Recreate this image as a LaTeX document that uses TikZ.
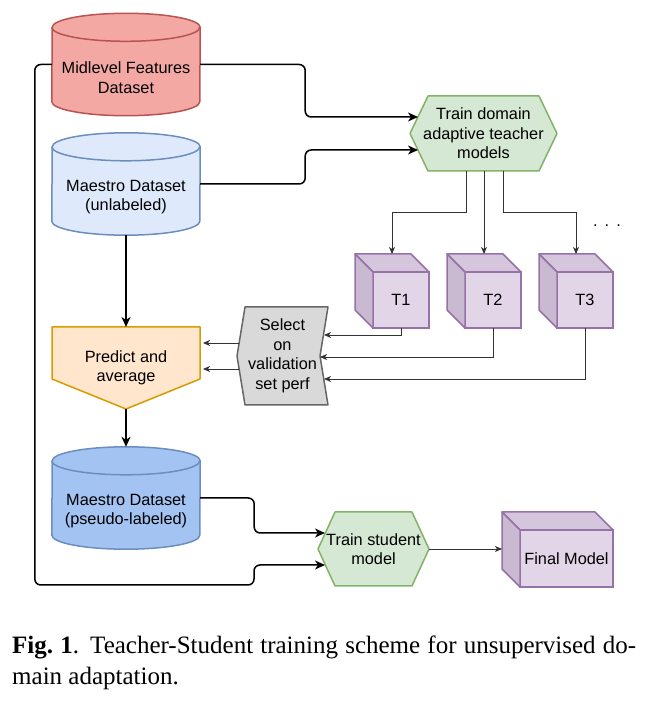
\documentclass[tikz,border=0pt]{standalone}
\usepackage{fontspec}
\setmainfont{Liberation Serif}
\newfontfamily\diafont{Liberation Sans}
\usetikzlibrary{arrows.meta,calc,backgrounds}
\definecolor{dbred}{HTML}{F4A8A4}
\definecolor{dbredline}{HTML}{B85450}
\definecolor{dbpale}{HTML}{DEEAFB}
\definecolor{dbblue}{HTML}{A3C3F2}
\definecolor{dbblueline}{HTML}{6C8EBF}
\definecolor{trainfill}{HTML}{D5E8D4}
\definecolor{trainline}{HTML}{82B366}
\definecolor{predfill}{HTML}{FFE6CC}
\definecolor{predline}{HTML}{D79B00}
\definecolor{selfill}{HTML}{D9D9D9}
\definecolor{selline}{HTML}{666666}
\definecolor{cubefront}{HTML}{E1D5E7}
\definecolor{cubetop}{HTML}{D5C6DD}
\definecolor{cubeside}{HTML}{C9B9D1}
\definecolor{cubeline}{HTML}{9673A6}

\begin{document}
\begin{tikzpicture}[x=1pt, y=1pt,
  font=\diafont\fontsize{16.3}{19.5}\selectfont,
  db/.style={minimum width=148, minimum height=102, inner sep=0pt},
  dbtxt/.style={align=center, inner sep=0pt},
  box/.style={align=center, inner sep=0pt, outer sep=0pt},
  outline/.style={line width=1.5pt, line join=round},
  cube/.style={draw=cubeline, fill=cubefront, line width=1.5pt, outer sep=0pt, inner sep=0pt},
  flow/.style={line width=1.5pt, rounded corners=6pt, -{Stealth[length=10pt, width=9pt, inset=3pt]}},
  link/.style={line width=0.9pt, black!80, -{Stealth[length=7pt, width=6pt, inset=2pt]}},
]
\useasboundingbox (0,0) rectangle (663,702);

% datasets
\node[db] (mf) at (126,637.5) {};
\node[db] (mu) at (126,518) {};
\node[db] (pl) at (126,204) {};
\foreach \n/\f/\d in {mf/dbred/dbredline, mu/dbpale/dbblueline, pl/dbblue/dbblueline} {
  \filldraw[draw=\d, fill=\f, line width=1.5pt] ([yshift=14pt]\n.south west)
    arc[start angle=180, end angle=360, x radius=74, y radius=14]
    -- ([yshift=-14pt]\n.north east)
    arc[start angle=0, end angle=180, x radius=74, y radius=14] -- cycle;
  \draw[draw=\d, line width=1.5pt] ([yshift=-14pt]\n.north west)
    arc[start angle=180, end angle=360, x radius=74, y radius=14];
}
\node[dbtxt] (mft) at ([yshift=-13pt]mf.center) {Midlevel Features\\Dataset};
\node[dbtxt] (mut) at ([yshift=-13pt]mu.center) {Maestro Dataset\\(unlabeled)};
\node[dbtxt] (plt) at ([yshift=-13pt]pl.center) {Maestro Dataset\\(pseudo-labeled)};

% training steps
\node[box, minimum width=147, minimum height=75] (tr) at (483.5,568.5) {Train domain\\adaptive teacher\\models};
\node[box, minimum width=111, minimum height=74] (st) at (373.5,153) {Train student\\model};
\node[box, minimum width=148, minimum height=82] (pred) at (126,334) {Predict and\\average};
\node[box, minimum width=91, minimum height=98] (sel) at (282.5,346) {Select\\on\\validation\\set perf};
\begin{scope}[on background layer]
  \filldraw[outline, draw=trainline, fill=trainfill]
    ([xshift=18pt]tr.north west) -- ([xshift=-18pt]tr.north east) -- (tr.east)
    -- ([xshift=-18pt]tr.south east) -- ([xshift=18pt]tr.south west) -- (tr.west) -- cycle;
  \filldraw[outline, draw=trainline, fill=trainfill]
    ([xshift=17pt]st.north west) -- ([xshift=-17pt]st.north east) -- (st.east)
    -- ([xshift=-17pt]st.south east) -- ([xshift=17pt]st.south west) -- (st.west) -- cycle;
  \filldraw[outline, draw=predline, fill=predfill]
    (pred.north west) -- (pred.north east) -- ([yshift=30pt]pred.south east)
    -- (pred.south) -- ([yshift=30pt]pred.south west) -- cycle;
  \filldraw[outline, draw=selline, fill=selfill]
    ([xshift=8pt]sel.north west) -- (sel.north east) -- ([xshift=-8pt]sel.east)
    -- (sel.south east) -- ([xshift=8pt]sel.south west) -- (sel.west) -- cycle;
\end{scope}

% models
\node[cube, minimum size=56] (t1) at (401,402) {T1};
\node[cube, minimum size=56] (t2) at (493,402) {T2};
\node[cube, minimum size=56] (t3) at (585,402) {T3};
\node[cube, minimum width=93, minimum height=57] (fin) at (566.5,143.5) {Final Model};
\foreach \c in {t1,t2,t3,fin} {
  \filldraw[outline, draw=cubeline, fill=cubetop]
    (\c.north west) -- ++(-18,18) -- ([shift={(-18,18)}]\c.north east) -- (\c.north east) -- cycle;
  \filldraw[outline, draw=cubeline, fill=cubeside]
    (\c.north west) -- ++(-18,18) -- ([shift={(-18,18)}]\c.south west) -- (\c.south west) -- cycle;
}
\node[anchor=base] (dots) at (607,475) {.\hspace{7pt}.\hspace{7pt}.};

% connectors
\draw[flow] (mf.east) -- ++(105,0) |- ([xshift=8pt,yshift=16.5pt]tr.west);
\draw[flow] (mu.east) -- ++(105,0) |- ([xshift=8pt,yshift=-16.5pt]tr.west);
\draw[flow] (mf.west) -- ++(-17,0) |- (254,117) |- ([xshift=7pt,yshift=-16pt]st.west);
\draw[flow] (pl.east) -- ++(54,0) |- ([xshift=7pt,yshift=16pt]st.west);
\draw[flow] (mu.south) -- (pred.north);
\draw[flow] (pred.south) -- (pl.north);

\draw[link] ([xshift=-17.5pt]tr.south) -- ++(0,-41) -| ([xshift=-9pt,yshift=18pt]t1.north);
\draw[link] ([xshift=0.5pt]tr.south) -- ([xshift=-9pt,yshift=18pt]t2.north);
\draw[link] ([xshift=19.5pt]tr.south) -- ++(0,-41) -| ([xshift=-9pt,yshift=18pt]t3.north);
\draw[link] (t1.south) |- ([xshift=41.5pt,yshift=21pt]sel.center);
\draw[link] (t2.south) |- ([xshift=37.5pt,yshift=-1pt]sel.center);
\draw[link] (t3.south) |- ([xshift=41.5pt,yshift=-23pt]sel.center);
\draw[link] ([xshift=2pt,yshift=13pt]sel.west) -- ($(pred.east |- sel.west)+(3,13)$);
\draw[link] ([xshift=2pt,yshift=-13pt]sel.west) -- ($(pred.east |- sel.west)+(3,-13)$);
\draw[link] (st.east) -- ($(st.east -| fin.west)+(-18,0)$);

% caption
\node[anchor=north west, inner sep=0pt, text width=624pt, align=justify,
      font=\rmfamily\fontsize{25}{31}\selectfont] (cap) at (12,66.5)
  {\textbf{Fig.\ 1}. Teacher-Student training scheme for unsupervised do-\linebreak main adaptation.};
\end{tikzpicture}
\end{document}
